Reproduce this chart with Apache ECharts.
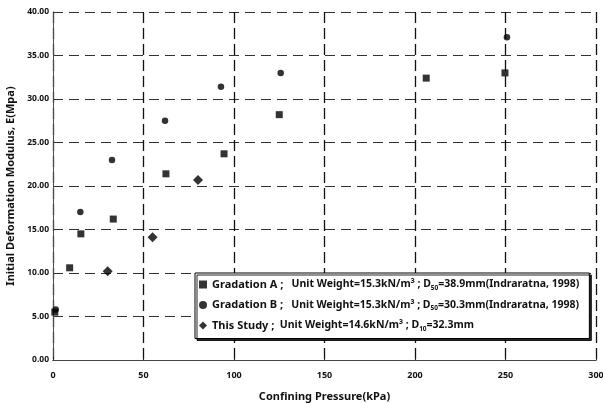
<!DOCTYPE html>
<html>
<head>
<meta charset="utf-8">
<script src="https://cdn.jsdelivr.net/npm/echarts@6/dist/echarts.min.js"></script>
<style>
html,body{margin:0;padding:0;background:#fff;}
#chart{width:603px;height:403px;}
</style>
</head>
<body>
<div id="chart"></div>
<script>
// Confining pressure (kPa) and initial deformation modulus (MPa)
const gradationA = [[1.0, 5.5], [9.2, 10.6], [15.4, 14.5], [33.3, 16.2], [62.4, 21.4], [94.5, 23.7], [125, 28.2], [206.2, 32.4], [249.7, 33.0]];
const gradationB = [[1.5, 5.8], [15.1, 17.0], [32.6, 23.0], [61.9, 27.5], [92.8, 31.4], [125.8, 33.0], [250.8, 37.1]];
const thisStudy = [[30.2, 10.2], [55.0, 14.1], [80.1, 20.7]];
const seriesNames = ['Gradation A', 'Gradation B', 'This Study'];
const legendTexts = {
  'Gradation A': '{b|Gradation A ;}   {t|Unit Weight=15.3kN/m³ ; D}{s|50}{t|=38.9mm(Indraratna, 1998)}',
  'Gradation B': '{b|Gradation B ;}   {t|Unit Weight=15.3kN/m³ ; D}{s|50}{t|=30.3mm(Indraratna, 1998)}',
  'This Study': '{b|This Study ;}  {t|Unit Weight=14.6kN/m³ ; D}{s|10}{t|=32.3mm}'
};

const FONT = '"Noto Sans", "Open Sans", sans-serif';
const chart = echarts.init(document.getElementById('chart'), null, {renderer: 'canvas'});

const txt = {fontFamily: FONT, fontSize: 10.5, fontWeight: 'bold', color: '#111'};

chart.setOption({
  backgroundColor: '#fff',
  animation: false,
  grid: {left: 53, right: 7, top: 12, bottom: 43, containLabel: false, outerBoundsMode: 'none'},
  legend: {
    data: seriesNames,
    orient: 'vertical',
    left: 195,
    top: 273,
    padding: [6, 10, 6, 4],
    itemGap: 8,
    itemWidth: 8,
    itemHeight: 8,
    backgroundColor: '#fff',
    borderColor: '#000',
    borderWidth: 1,
    shadowColor: 'rgba(0,0,0,0.85)',
    shadowBlur: 0,
    shadowOffsetX: 2,
    shadowOffsetY: 2,
    formatter: name => legendTexts[name],
    textStyle: {
      ...txt,
      rich: {
        b: {...txt, fontSize: 11},
        t: {...txt},
        s: {fontFamily: FONT, fontSize: 6.5, fontWeight: 'bold', color: '#111', padding: [7, 0, 0, 0]}
      }
    }
  },
  xAxis: [{
    type: 'value',
    min: 0, max: 300, interval: 50,
    name: 'Confining Pressure(kPa)',
    nameLocation: 'middle',
    nameGap: 31,
    nameTextStyle: {fontFamily: FONT, fontSize: 11, fontWeight: 'bold', color: '#111'},
    axisLine: {lineStyle: {color: '#222', width: 1}},
    axisTick: {show: true, inside: true, length: 3, lineStyle: {color: '#222'}},
    axisLabel: {fontFamily: FONT, fontSize: 9, fontWeight: 'bold', color: '#111', margin: 11},
    splitLine: {show: true, lineStyle: {color: '#111', width: 1.3, type: [11, 5]}}
  }, {
    type: 'value', position: 'top', min: 0, max: 300,
    axisLine: {show: true, lineStyle: {color: '#444', width: 1}},
    axisTick: {show: false}, axisLabel: {show: false}, splitLine: {show: false}
  }],
  yAxis: [{
    type: 'value',
    min: 0, max: 40, interval: 5,
    name: 'Initial Deformation Modulus, E(Mpa)',
    nameLocation: 'middle',
    nameGap: 32,
    nameTextStyle: {fontFamily: FONT, fontSize: 11, fontWeight: 'bold', color: '#111'},
    axisLine: {show: true, lineStyle: {color: '#222', width: 1}},
    axisTick: {show: false},
    axisLabel: {fontFamily: FONT, fontSize: 8.5, fontWeight: 'bold', color: '#111', margin: 4,
      formatter: v => v.toFixed(2)},
    splitLine: {show: true, lineStyle: {color: '#333', width: 1, type: [10, 6]}}
  }, {
    type: 'value', position: 'right', min: 0, max: 40,
    axisLine: {show: true, lineStyle: {color: '#555', width: 1, type: [1, 1]}},
    axisTick: {show: false}, axisLabel: {show: false}, splitLine: {show: false}
  }],
  series: [
    {name: seriesNames[0], type: 'scatter', data: gradationA, symbol: 'rect', symbolSize: 7,
      itemStyle: {color: '#000'}},
    {name: seriesNames[1], type: 'scatter', data: gradationB, symbol: 'circle', symbolSize: 6.5,
      itemStyle: {color: '#000'}},
    {name: seriesNames[2], type: 'scatter', data: thisStudy, symbol: 'diamond', symbolSize: 10,
      itemStyle: {color: '#000'}}
  ]
});
</script>
</body>
</html>
